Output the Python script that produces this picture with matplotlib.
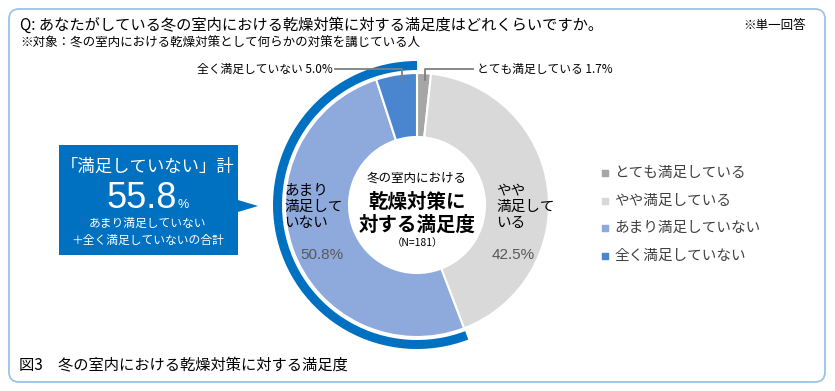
import matplotlib.pyplot as plt
from matplotlib.patches import Wedge, FancyBboxPatch, Polygon

plt.rcParams['font.family'] = ['Noto Sans CJK JP', 'DejaVu Sans']

# データ
categories = ['とても満足している', 'やや満足している', 'あまり満足していない', '全く満足していない']
values = [1.7, 42.5, 50.8, 5.0]
colors = ['#A6A6A6', '#D9D9D9', '#8EA9DB', '#4A86D0']
n_total = 181
unsatisfied = values[2] + values[3]

W, H = 835, 391


def Y(y):
    # 画像の上からのピクセル位置 -> 下からの座標
    return H - y


fig = plt.figure(figsize=(W / 100, H / 100), dpi=100)
ax = fig.add_axes([0, 0, 1, 1])

# 外枠
ax.add_patch(FancyBboxPatch((9, Y(382)), 816, 373, boxstyle='round,pad=0,rounding_size=10',
                            fc='white', ec='#9DC3E6', lw=1.3))

# ドーナツ
cx, cy, r = 417, Y(205), 132
ax.pie(values, colors=colors, startangle=90, counterclock=False,
       center=(cx, cy), radius=r,
       wedgeprops=dict(width=r - 68, edgecolor='white', linewidth=1.5))

# 「満足していない」の外側の弧
start = 90 - 360 * (values[0] + values[1]) / 100 + 360
ax.add_patch(Wedge((cx, cy), 144, 90, start, width=9, fc='#0070C0', ec='none'))

# 中央のテキスト
ax.text(cx, Y(178), '冬の室内における', ha='center', va='center', fontsize=9, color='#000000')
ax.text(cx, Y(202), '乾燥対策に', ha='center', va='center', fontsize=14, fontweight='bold')
ax.text(cx, Y(225), '対する満足度', ha='center', va='center', fontsize=14, fontweight='bold')
ax.text(cx, Y(243), f'（N={n_total}）', ha='center', va='center', fontsize=7.5)

# セグメント内ラベル
ax.text(284, Y(207), 'あまり\n満足して\nいない', ha='left', va='center', fontsize=10.5,
        linespacing=1.2, color='#000000')
ax.text(322, Y(255), f'{values[2]:.1f}%', ha='center', va='center', fontsize=11,
        color='#595959', family='Liberation Sans')
ax.text(496, Y(207), 'やや\n満足して\nいる', ha='left', va='center', fontsize=10.5,
        linespacing=1.2, color='#000000')
ax.text(513, Y(255), f'{values[1]:.1f}%', ha='center', va='center', fontsize=11,
        color='#595959', family='Liberation Sans')

# 外側ラベルと引き出し線
ax.plot([335, 402, 402], [Y(69), Y(69), Y(80)], color='#7F7F7F', lw=1.3)
ax.text(333, Y(69), f'{categories[3]} {values[3]:.1f}%', ha='right', va='center', fontsize=8.5)
ax.plot([473, 425, 425], [Y(69), Y(69), Y(80)], color='#7F7F7F', lw=1.3)
ax.text(477, Y(69), f'{categories[0]} {values[0]:.1f}%', ha='left', va='center', fontsize=8.5)

# 吹き出し
ax.add_patch(Polygon([(59, Y(145)), (238, Y(145)), (238, Y(200)), (258, Y(206)),
                      (238, Y(212)), (238, Y(255)), (59, Y(255))],
                     closed=True, fc='#0070C0', ec='none'))
ax.text(148, Y(167), '「満足していない」計', ha='center', va='center', fontsize=12.5, color='white')
ax.text(177, Y(208), f'{unsatisfied:.1f}', ha='right', va='baseline', fontsize=26,
        color='white', family='Liberation Sans')
ax.text(178, Y(208), '%', ha='left', va='baseline', fontsize=9, color='white', family='Liberation Sans')
ax.text(148, Y(223), 'あまり満足していない', ha='center', va='center', fontsize=8.5, color='white')
ax.text(148, Y(240), '＋全く満足していないの合計', ha='center', va='center', fontsize=8.5, color='white')

# 凡例
for i, (lab, col) in enumerate(zip(categories, colors)):
    yy = Y(173 + i * 27.5)
    ax.scatter([605], [yy], marker='s', s=16, color=col)
    ax.text(614, yy, lab, ha='left', va='center', fontsize=10.5, color='#404040')

# タイトル
ax.text(20, Y(25), 'Q: あなたがしている冬の室内における乾燥対策に対する満足度はどれくらいですか。',
        ha='left', va='center', fontsize=11)
ax.text(20, Y(43), '※対象：冬の室内における乾燥対策として何らかの対策を講じている人',
        ha='left', va='center', fontsize=9)
ax.text(806, Y(25), '※単一回答', ha='right', va='center', fontsize=9)
ax.text(19, Y(366), '図3　冬の室内における乾燥対策に対する満足度', ha='left', va='center', fontsize=11)

ax.set_xlim(0, W)
ax.set_ylim(0, H)
ax.axis('off')

fig.savefig('out.png', dpi=100)
